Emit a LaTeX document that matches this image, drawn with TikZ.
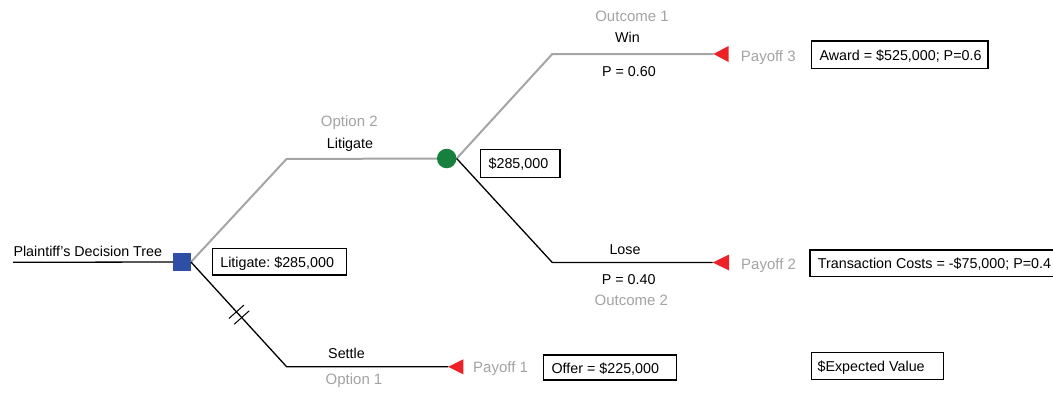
\documentclass[tikz,border=0pt]{standalone}
\usepackage{fontspec}
\setmainfont{Liberation Sans}
\usetikzlibrary{calc}

\definecolor{branchgray}{HTML}{A5A5A5}
\definecolor{labelgray}{HTML}{A3A3A3}
\definecolor{decblue}{HTML}{2F4EA5}
\definecolor{chancegreen}{HTML}{17803F}
\definecolor{payred}{HTML}{EE2127}

% left-aligned text in a box of fixed inner width
\newcommand{\boxtext}[2]{\makebox[#1][l]{#2}}

\begin{document}
\frenchspacing
\begin{tikzpicture}[x=1pt,y=-1pt,
  lbl/.style={font=\fontsize{14.3}{16}\selectfont, inner sep=0pt, anchor=base},
  glbl/.style={font=\fontsize{15}{18}\selectfont, text=labelgray, inner sep=0pt, anchor=base},
  valbox/.style={draw, line width=1.2pt, font=\fontsize{14.3}{16}\selectfont,
    anchor=west, inner xsep=8pt, inner ysep=0pt,
    text height=13pt, text depth=2pt},
  graybranch/.style={draw=branchgray, line width=2pt},
  blackbranch/.style={draw=black, line width=1.3pt},
  endtri/.style={fill=payred}]

\useasboundingbox (0,0) rectangle (1053,394);

% decision and chance nodes
\node[fill=decblue, minimum size=17.5pt, inner sep=0pt] (dec) at (182,262) {};
\node[circle, fill=chancegreen, minimum size=19.5pt, inner sep=0pt] (ch) at (446.7,158.5) {};

% bends and end points of the branches
\coordinate (start) at (13,262.3);
\coordinate (litbend) at (286.5,159);
\coordinate (setbend) at (286.7,366.8);
\coordinate (winbend) at (552.3,54);
\coordinate (losebend) at (552.3,262.5);
\coordinate (pay3) at (713.5,54);
\coordinate (pay2) at (712.7,262.5);
\coordinate (pay1) at (448.3,366.8);

% branches
\draw[blackbranch] (start) -- (dec.west);
\draw[graybranch] (dec.east) -- (litbend) -- (ch.west);
\draw[blackbranch] (dec.east) -- (setbend) -- (pay1);
\draw[graybranch] (ch.east) -- (winbend) -- (pay3);
\draw[blackbranch] (ch.east) -- (losebend) -- (pay2);

% double stroke on the rejected branch
\foreach \t in {0.475,0.53}
  \draw[line width=1pt] ($(dec.east)!\t!(setbend)$) ++(-7.5,6.7) -- ++(15,-13.4);

% terminal triangles
\fill[endtri] (pay3) -- ++(15,-8) -- ++(0,16) -- cycle;
\fill[endtri] (pay2) -- ++(16.5,-8) -- ++(0,16) -- cycle;
\fill[endtri] (pay1) -- ++(15,-7.5) -- ++(0,15) -- cycle;

% titles and branch labels
\node[lbl, anchor=base west] (title) at (13.3,256.7) {Plaintiff's Decision Tree};
\node[glbl] (opt2) at (349.3,126.7) {Option 2};
\node[lbl] (litlbl) at (350,148.3) {Litigate};
\node[glbl] (out1) at (632,21.7) {Outcome 1};
\node[lbl] (winlbl) at (627.5,42.7) {Win};
\node[lbl] (p60) at (629,76) {P = 0.60};
\node[lbl] (loselbl) at (625,254) {Lose};
\node[lbl] (p40) at (628.7,284.3) {P = 0.40};
\node[glbl] (out2) at (631.3,305) {Outcome 2};
\node[lbl] (settlelbl) at (346.5,358.3) {Settle};
\node[glbl] (opt1) at (354,384.3) {Option 1};

% payoff labels
\node[glbl, anchor=base west] (pl3) at (740.7,61) {Payoff 3};
\node[glbl, anchor=base west] (pl2) at (741,269.3) {Payoff 2};
\node[glbl, anchor=base west] (pl1) at (473,372.7) {Payoff 1};

% value boxes
\node[valbox, minimum height=26.7pt] (litval) at (211.7,261.7) {\boxtext{118.3pt}{Litigate: \$285,000}};
\node[valbox, minimum height=28pt] (chval) at (480,163.3) {\boxtext{63.3pt}{\$285,000}};
\node[valbox, minimum height=27.3pt] (awardval) at (811,54.7) {\boxtext{160.3pt}{Award = \$525,000; P=0.6}};
\node[valbox, minimum height=26.7pt] (costval) at (809.3,263.3) {\boxtext{240pt}{Transaction Costs = -\$75,000; P=0.4}};
\node[valbox, minimum height=25pt] (offerval) at (543,367.5) {\boxtext{117pt}{Offer = \$225,000}};
\node[valbox, inner xsep=6pt, minimum height=26.6pt] (evval) at (811,366) {\boxtext{119.7pt}{\$Expected Value}};

\end{tikzpicture}
\end{document}
